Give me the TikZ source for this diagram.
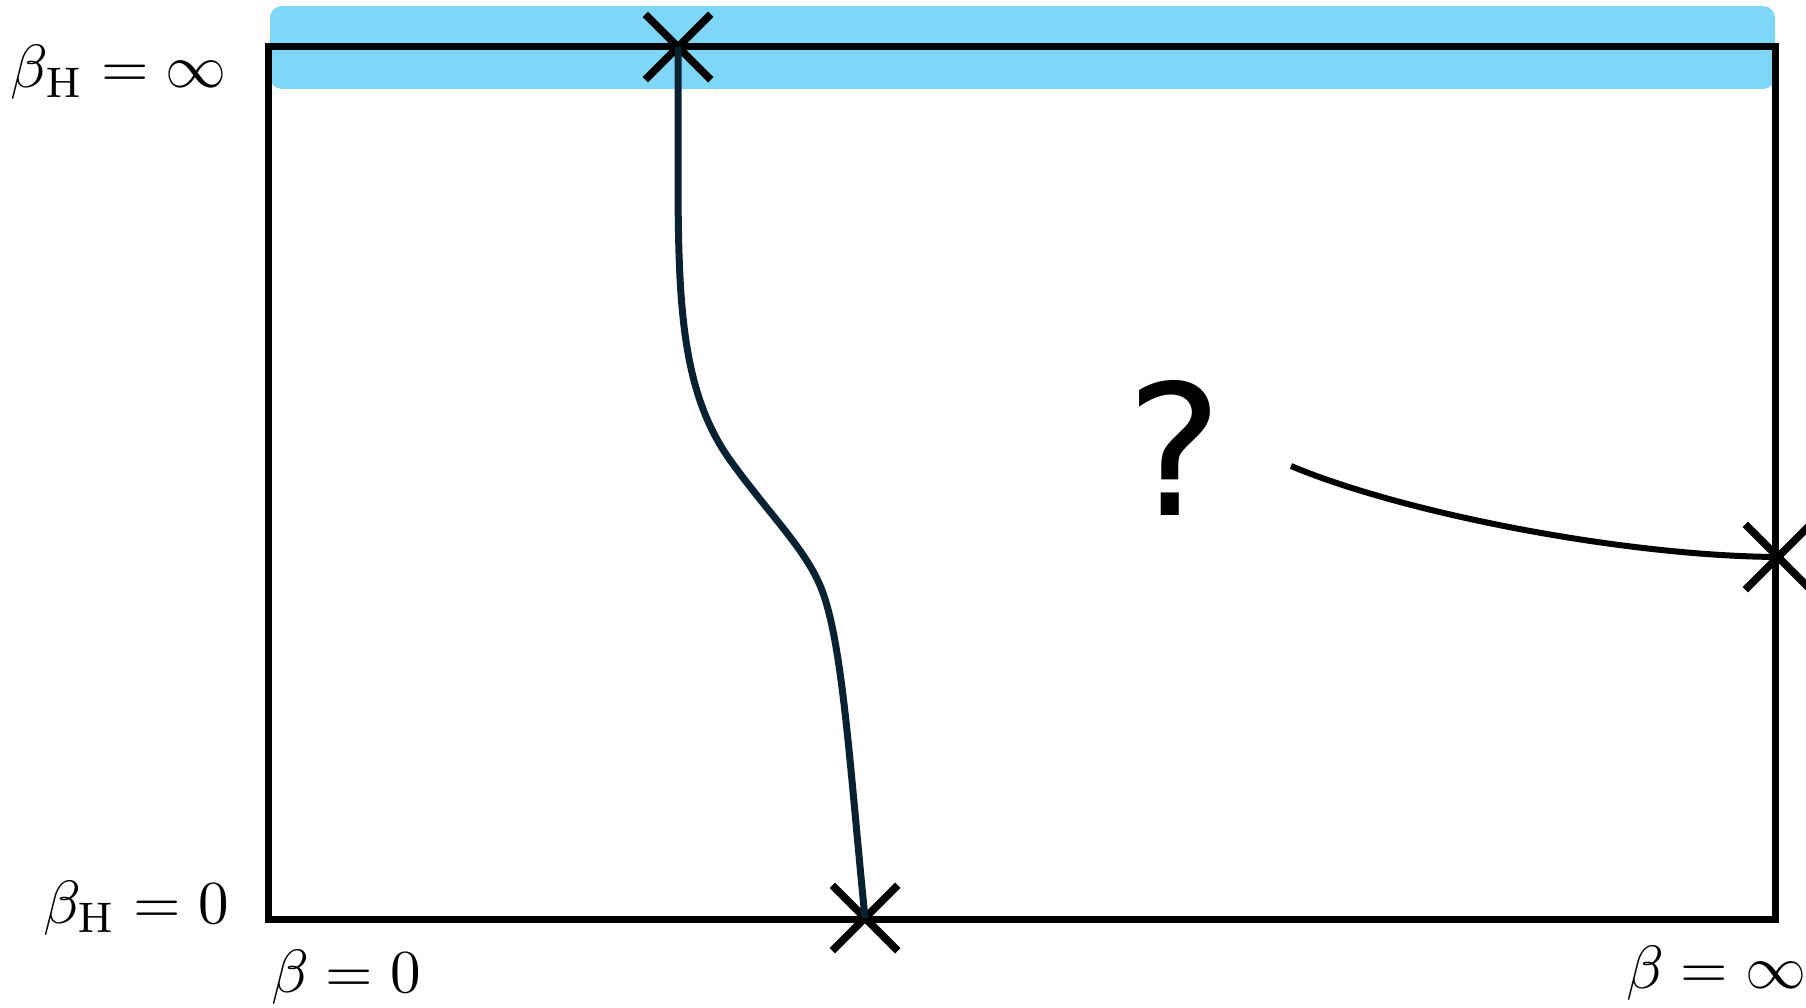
\documentclass[tikz,border=0pt]{standalone}
\usepackage{graphicx}
\usepackage{fontspec}
\newfontfamily\qfont{DejaVu Sans}
\usetikzlibrary{shapes.misc}
\definecolor{bandblue}{RGB}{127,215,247}
\definecolor{pathnavy}{RGB}{8,34,50}
\newcommand{\biglbl}[1]{\scalebox{6.1}{#1}}
\tikzset{
  xmark/.style={cross out, draw=black, line width=7.5pt, minimum size=58pt, inner sep=0pt},
  frame/.style={draw=black, line width=7pt, outer sep=0pt},
  lbl/.style={inner sep=0pt},
}
\begin{document}
\begin{tikzpicture}[x=1pt,y=-1pt]
\useasboundingbox (0,0) rectangle (1806,1008);
% band
\fill[bandblue, rounded corners=12pt] (270,6) rectangle (1775,89);
% frame
\node[frame, rectangle, minimum width=1507pt, minimum height=872pt, inner sep=0pt, anchor=north west] (box) at (268,47) {};
% crosses
\node[xmark] (tx) at (678,47) {};
\node[xmark] (bx) at (865,918) {};
\node[xmark] (rx) at (1778,557) {};
% curve 1
\draw[pathnavy, line width=7pt] (tx.center) -- (678,150)
  .. controls (678,290) and (678,387) .. (730,460)
  .. controls (771,517) and (808,551) .. (823,593)
  .. controls (843,649) and (850,768) .. (bx.center);
% curve 2
\coordinate (c2) at (1291,466);
\draw[black, line width=6pt] (c2) .. controls (1400,512) and (1620,556) .. (rx.center);
% question mark
\node[inner sep=0pt, anchor=base, font=\qfont\fontsize{182}{200}\selectfont] (q) at (1175,515) {?};
% labels
\node[lbl, anchor=base east] (l1) at (227,88) {\biglbl{$\beta_{\mathrm{H}} = \infty$}};
\node[lbl, anchor=base east] (l2) at (229,923) {\biglbl{$\beta_{\mathrm{H}} = 0$}};
\node[lbl, anchor=base west] (l3) at (271,992) {\biglbl{$\beta = 0$}};
\node[lbl, anchor=base west] (l4) at (1626,988) {\biglbl{$\beta = \infty$}};
\end{tikzpicture}
\end{document}
